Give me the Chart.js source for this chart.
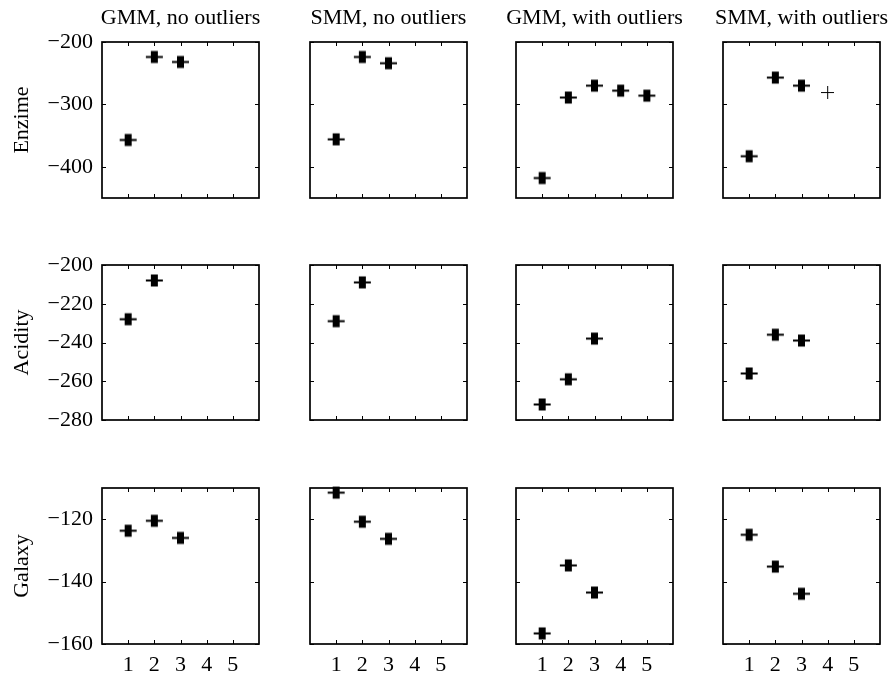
<!DOCTYPE html>
<html>
<head>
<meta charset="utf-8">
<script src="https://cdn.jsdelivr.net/npm/chart.js@4/dist/chart.umd.min.js"></script>
<style>
  body { margin: 0; background: #fff; width: 893px; height: 679px; position: relative; overflow: hidden; }
  canvas { position: absolute; }
</style>
</head>
<body>
<script>
// labels
const columnTitles = ['GMM, no outliers', 'SMM, no outliers', 'GMM, with outliers', 'SMM, with outliers'];
const rowTitles = ['Enzime', 'Acidity', 'Galaxy'];
const components = [1, 2, 3, 4, 5];
const yTicks = [[-400, -300, -200], [-280, -260, -240, -220, -200], [-160, -140, -120]];
const yMin = [-450, -280, -160];
const yMax = [-200, -200, -110];

// log-likelihood per number of components
const enzimeGmm = [-357, -224, -232];
const enzimeSmm = [-356, -224, -234];
const enzimeGmmOut = [-418, -289, -270, -278, -286];
const enzimeSmmOut = [-383, -257, -270];
const enzimeSmmOutWeak = [null, null, null, -281];
const acidityGmm = [-228, -208];
const aciditySmm = [-229, -209];
const acidityGmmOut = [-272, -259, -238];
const aciditySmmOut = [-256, -236, -239];
const galaxyGmm = [-123.7, -120.5, -126];
const galaxySmm = [-111.5, -120.8, -126.3];
const galaxyGmmOut = [-156.6, -134.8, -143.5];
const galaxySmmOut = [-125, -135.2, -143.9];

const grid = [
  [[enzimeGmm], [enzimeSmm], [enzimeGmmOut], [enzimeSmmOut, enzimeSmmOutWeak]],
  [[acidityGmm], [aciditySmm], [acidityGmmOut], [aciditySmmOut]],
  [[galaxyGmm], [galaxySmm], [galaxyGmmOut], [galaxySmmOut]]
];

Chart.defaults.font.family = "'Liberation Serif', 'DejaVu Serif', serif";
Chart.defaults.color = '#000';

const colLeft = [102, 310, 516, 723];
const rowTop = [42, 264, 487];
const SIZE = 157;
const serif = { family: "'Liberation Serif', serif", size: 22, weight: 'normal' };

// markers (overlapping runs look like a fat plus)
function boldPlus() {
  const c = document.createElement('canvas');
  c.width = 19; c.height = 15;
  const g = c.getContext('2d');
  g.fillStyle = '#000';
  g.fillRect(1, 6.5, 17, 2);
  g.fillRect(6, 1.5, 7, 12);
  return c;
}
function thinPlus() {
  const c = document.createElement('canvas');
  c.width = 13; c.height = 13;
  const g = c.getContext('2d');
  g.fillStyle = '#000';
  g.fillRect(0, 6, 13, 1);
  g.fillRect(6, 0, 1, 13);
  return c;
}
const markBold = boldPlus();
const markThin = thinPlus();

const toPoints = vals => vals.map((v, i) => ({ x: components[i], y: v })).filter(p => p.y !== null);
const minus = v => v < 0 ? '\u2212' + Math.abs(v) : String(v);
const noPad = s => { s.paddingTop = 0; s.paddingBottom = 0; s.paddingLeft = 0; s.paddingRight = 0; };

const framePlugin = {
  id: 'frame',
  afterDraw(chart) {
    const { ctx, chartArea: a, scales: { x, y } } = chart;
    ctx.save();
    ctx.strokeStyle = '#000';
    ctx.lineWidth = 1;
    ctx.beginPath();
    x.ticks.forEach(t => {
      const px = Math.round(x.getPixelForValue(t.value)) + 0.5;
      ctx.moveTo(px, a.bottom); ctx.lineTo(px, a.bottom - 4);
      ctx.moveTo(px, a.top); ctx.lineTo(px, a.top + 4);
    });
    y.ticks.forEach(t => {
      const py = Math.round(y.getPixelForValue(t.value)) + 0.5;
      ctx.moveTo(a.left, py); ctx.lineTo(a.left + 4, py);
      ctx.moveTo(a.right, py); ctx.lineTo(a.right - 4, py);
    });
    ctx.stroke();
    ctx.lineWidth = 1.7;
    ctx.strokeRect(a.left, a.top, a.right - a.left, a.bottom - a.top);
    ctx.restore();
  }
};

const hiddenAxis = {
  grid: { display: false, drawTicks: false },
  border: { display: false }
};

grid.forEach((row, r) => {
  row.forEach((series, c) => {
    // same width left and right so the title centres on the panel
    const L = c === 0 ? 102 : 30, R = L;
    const T = r === 0 ? 42 : 8, B = r === 2 ? 36 : 8;
    const cv = document.createElement('canvas');
    cv.width = L + SIZE + R;
    cv.height = T + SIZE + B;
    cv.style.left = (colLeft[c] - L) + 'px';
    cv.style.top = (rowTop[r] - T) + 'px';
    document.body.appendChild(cv);

    const datasets = series.map((vals, k) => ({
      data: toPoints(vals),
      pointStyle: k === 0 ? markBold : markThin,
      pointRadius: 8,
      clip: false
    }));

    new Chart(cv, {
      type: 'scatter',
      data: { datasets },
      options: {
        responsive: false,
        animation: false,
        events: [],
        layout: { padding: { top: r === 0 ? 0 : T, right: 0, left: 0, bottom: 0 } },
        plugins: {
          legend: { display: false },
          tooltip: { enabled: false },
          title: {
            display: r === 0,
            text: columnTitles[c],
            fullSize: true,
            font: serif,
            color: '#000',
            padding: { top: 5.4, bottom: 10.2 }
          }
        },
        scales: {
          x: {
            ...hiddenAxis,
            type: 'linear',
            min: 0, max: 6,
            afterBuildTicks: s => { s.ticks = components.map(v => ({ value: v })); },
            ticks: { display: r === 2, font: serif, color: '#000', padding: 8, maxRotation: 0 },
            afterFit: s => { s.height = B; noPad(s); }
          },
          y: {
            ...hiddenAxis,
            type: 'linear',
            min: yMin[r], max: yMax[r],
            afterBuildTicks: s => { s.ticks = yTicks[r].map(v => ({ value: v })); },
            ticks: { display: c === 0, font: serif, color: '#000', padding: 9, callback: minus },
            title: { display: c === 0, text: rowTitles[r], font: serif, color: '#000', padding: { top: 9, bottom: 0 } },
            afterFit: s => { s.width = L; noPad(s); }
          },
          yRight: {
            ...hiddenAxis,
            type: 'linear',
            position: 'right',
            min: yMin[r], max: yMax[r],
            ticks: { display: false },
            afterFit: s => { s.width = R; noPad(s); }
          }
        }
      },
      plugins: [framePlugin]
    });
  });
});
</script>
</body>
</html>
